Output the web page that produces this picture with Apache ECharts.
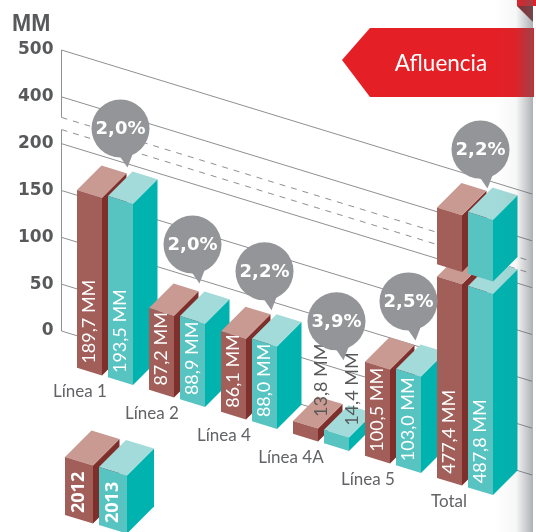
<!DOCTYPE html>
<html>
<head>
    <meta charset="UTF-8">
    <title>Afluencia</title>
    <style>
        html, body { margin: 0; padding: 0; background: #fff; }
        #chart { width: 536px; height: 532px; }
    </style>
    <script src="https://cdn.jsdelivr.net/npm/echarts@6/dist/echarts.min.js"></script>
</head>
<body>
<div id="chart"></div>

<script type="text/javascript">
    var categories = ['Línea 1', 'Línea 2', 'Línea 4', 'Línea 4A', 'Línea 5', 'Total'];
    var values2012 = [189.7, 87.2, 86.1, 13.8, 100.5, 477.4];
    var values2013 = [193.5, 88.9, 88.0, 14.4, 103.0, 487.8];
    var growth = [2.0, 2.0, 2.2, 3.9, 2.5, 2.2];
    var tickValues = [0, 50, 100, 150, 200, 400, 500];
    // la escala esta cortada entre estos dos valores
    var axisBreak = [260, 312];

    var SLOPE = 0.306;      // inclinacion de las lineas de fondo
    var GRID_LEN = 470.5;
    var BAR_W = 25;
    var BAR_D = 24.5;
    var FRONT = 32;         // las barras estan delante del plano del eje
    var TEAL_DX = 31;

    var redColors = { front: '#a25e59', side: '#7e2e2b', top: '#c99a91' };
    var tealColors = { front: '#58c4c2', side: '#00b3af', top: '#a2dbd9' };

    // el eje no es lineal: cada marca ocupa un paso igual
    function axisPos(v) {
        for (var i = 1; i < tickValues.length; i++) {
            if (v <= tickValues[i]) {
                return i - 1 + (v - tickValues[i - 1]) / (tickValues[i] - tickValues[i - 1]);
            }
        }
        return tickValues.length - 1;
    }

    function decimal(v) {
        return v.toFixed(1).replace('.', ',');
    }

    function poly(points, color) {
        return { type: 'polygon', shape: { points: points }, style: { fill: color } };
    }

    // caja oblicua: x/base/top son la arista frontal izquierda
    function box(x, base, top, w, d, colors) {
        var s = w * SLOPE;
        return [
            poly([[x + w, top + s], [x + w + d, top + s - d], [x + w + d, base + s - d], [x + w, base + s]], colors.side),
            poly([[x, top], [x + w, top + s], [x + w + d, top + s - d], [x + d, top - d]], colors.top),
            poly([[x, top], [x + w, top + s], [x + w, base + s], [x, base]], colors.front)
        ];
    }

    function barText(x, y, str, color, size) {
        return {
            type: 'text',
            x: x,
            y: y,
            rotation: Math.PI / 2,
            style: {
                text: str,
                fill: color,
                align: 'left',
                verticalAlign: 'middle',
                font: 'normal ' + size + 'px Lato'
            }
        };
    }

    function barBase(api, coordSys, i) {
        var center = api.coord([i, 0]);
        var x = center[0] - 20.5;
        return { x: x, y: center[1] + (x - coordSys.x) * SLOPE + FRONT };
    }

    function drawBar(api, x, base, value, colors, children) {
        var zero = api.coord([0, 0])[1];
        var h = function (v) { return zero - api.coord([0, axisPos(v)])[1]; };
        var top = base - h(value);
        if (value > axisBreak[1]) {
            children.push.apply(children, box(x, base, base - h(axisBreak[0]), BAR_W, BAR_D, colors));
            children.push.apply(children, box(x, base - h(axisBreak[1]), top, BAR_W, BAR_D, colors));
        } else {
            children.push.apply(children, box(x, base, top, BAR_W, BAR_D, colors));
        }
        var str = decimal(value) + ' MM';
        var mid = x + BAR_W / 2;
        if (value < 20) {
            children.push(barText(mid + 16, top - 4, str, '#58595b', 18));
        } else {
            children.push(barText(mid, base + BAR_W * SLOPE / 2 - 8, str, '#ffffff', 18));
        }
        return top;
    }

    function renderBars(params, api) {
        var i = api.value(0);
        var p = barBase(api, params.coordSys, i);
        var children = [];
        var name = categories[i];
        drawBar(api, p.x, p.y, api.value(1), redColors, children);
        drawBar(api, p.x + TEAL_DX, p.y + TEAL_DX * SLOPE, api.value(2), tealColors, children);
        var labelDx = name === 'Total' ? 12 : name === 'Línea 4A' ? -2 : 3;
        children.push({
            type: 'text',
            x: p.x + labelDx,
            y: p.y + 24,
            style: {
                text: name,
                fill: '#626366',
                align: 'center',
                verticalAlign: 'middle',
                font: 'normal 17px Lato'
            }
        });
        return { type: 'group', children: children };
    }

    // ajustes de la burbuja respecto a su barra
    var bubbleLift = { 'Línea 2': -4, 'Línea 4A': -41, 'Total': 5 };

    function renderBubble(params, api) {
        var i = api.value(0);
        var p = barBase(api, params.coordSys, i);
        var zero = api.coord([0, 0])[1];
        var h = zero - api.coord([0, axisPos(api.value(1))])[1];
        var tx = p.x + TEAL_DX + BAR_D - 5;
        var ty = p.y + TEAL_DX * SLOPE - h - BAR_D - 4 + (bubbleLift[categories[i]] || 0);
        var cx = tx - 7;
        var cy = ty - 39;
        return {
            type: 'group',
            children: [
                { type: 'circle', shape: { cx: cx, cy: cy, r: 29 }, style: { fill: '#939598' } },
                poly([[cx - 2, cy + 26], [cx + 12, cy + 26], [tx, ty]], '#939598'),
                {
                    type: 'text',
                    x: cx,
                    y: cy + 1,
                    style: {
                        text: decimal(api.value(2)) + '%',
                        fill: '#ffffff',
                        align: 'center',
                        verticalAlign: 'middle',
                        font: 'bold 18px "DejaVu Sans"'
                    }
                }
            ]
        };
    }

    function renderGridLine(params, api) {
        var x0 = params.coordSys.x;
        var y0 = api.coord([0, axisPos(api.value(0))])[1];
        return {
            type: 'line',
            shape: { x1: x0, y1: y0, x2: x0 + GRID_LEN, y2: y0 + GRID_LEN * SLOPE },
            style: {
                stroke: '#8f9092',
                lineWidth: 1,
                lineDash: api.value(1) ? [6, 6] : null
            }
        };
    }

    function renderAxisRun(params, api) {
        var x0 = params.coordSys.x;
        return {
            type: 'line',
            shape: {
                x1: x0,
                y1: api.coord([0, axisPos(api.value(0))])[1],
                x2: x0,
                y2: api.coord([0, axisPos(api.value(1))])[1]
            },
            style: { stroke: '#8f9092', lineWidth: 1 }
        };
    }

    var barData = categories.map(function (c, i) { return [i, values2012[i], values2013[i]]; });
    var bubbleData = categories.map(function (c, i) { return [i, values2013[i], growth[i]]; });
    var lineData = tickValues.map(function (v) { return [v, 0]; })
        .concat(axisBreak.map(function (v) { return [v, 1]; }));
    var runData = [[0, axisBreak[0]], [axisBreak[1], 500]];

    function legendBox(x, base, top, w, d, colors, label) {
        var shapes = box(x, base, top, w, d, colors);
        shapes.push({
            type: 'text',
            x: x + w / 2,
            y: base - 2,
            rotation: Math.PI / 2,
            style: {
                text: label,
                fill: '#fff',
                align: 'left',
                verticalAlign: 'middle',
                font: 'bold 18px "Open Sans"'
            }
        });
        return { type: 'group', children: shapes };
    }

    var chart = echarts.init(document.getElementById('chart'), null, { renderer: 'canvas' });
    chart.setOption({
        animation: false,
        backgroundColor: '#ffffff',
        grid: { left: 61.5, top: 50, width: 432, height: 281 },
        xAxis: {
            type: 'category',
            data: categories,
            boundaryGap: true,
            axisLine: { show: false },
            axisTick: { show: false },
            axisLabel: { show: false }
        },
        yAxis: {
            type: 'value',
            min: 0,
            max: tickValues.length - 1,
            interval: 1,
            axisLine: { show: false },
            axisTick: { show: false },
            splitLine: { show: false },
            axisLabel: {
                margin: 8,
                color: '#58595b',
                fontFamily: 'DejaVu Sans',
                fontWeight: 'bold',
                fontSize: 17,
                formatter: function (v) { return String(tickValues[v]); }
            }
        },
        series: [
            { type: 'custom', renderItem: renderGridLine, data: lineData, clip: false, silent: true, z: 1 },
            { type: 'custom', renderItem: renderAxisRun, data: runData, clip: false, silent: true, z: 1 },
            { type: 'custom', renderItem: renderBars, data: barData, encode: { x: 0, y: 1 }, clip: false, silent: true, z: 3 },
            { type: 'custom', renderItem: renderBubble, data: bubbleData, encode: { x: 0, y: 1 }, clip: false, silent: true, z: 4 }
        ],
        graphic: { elements: [
            {
                type: 'text',
                left: 12,
                top: 13,
                style: { text: 'MM', fill: '#58595b', font: 'bold 23px "Liberation Sans"' }
            },
            {
                type: 'polygon',
                z: 5,
                shape: { points: [[342, 60], [370, 28], [534, 28], [534, 97], [370, 97]] },
                style: { fill: '#e41f26' }
            },
            {
                type: 'text',
                z: 6,
                x: 441,
                y: 64,
                style: {
                    text: 'Afluencia',
                    fill: '#fff',
                    align: 'center',
                    verticalAlign: 'middle',
                    font: 'normal 22.5px Lato'
                }
            },
            {
                type: 'polygon',
                z: 5,
                shape: { points: [[517, 6], [533, 6], [533, 22]] },
                style: { fill: '#8a2a2c' }
            },
            {
                type: 'rect',
                z: 5,
                shape: { x: 517, y: 0, width: 19, height: 6 },
                style: { fill: '#e41f26' }
            },
            {
                type: 'rect',
                z: 8,
                shape: { x: 495, y: 0, width: 38, height: 532 },
                style: {
                    fill: {
                        type: 'linear', x: 0, y: 0, x2: 1, y2: 0,
                        colorStops: [
                            { offset: 0, color: 'rgba(95,98,105,0)' },
                            { offset: 0.55, color: 'rgba(95,98,105,0.05)' },
                            { offset: 1, color: 'rgba(95,98,105,0.5)' }
                        ]
                    }
                }
            },
            Object.assign(legendBox(65, 515, 457, 28, 26.5, redColors, '2012'), { z: 6 }),
            Object.assign(legendBox(99, 525, 467, 28, 27, tealColors, '2013'), { z: 6 })
        ] }
    });
</script>
</body>
</html>
